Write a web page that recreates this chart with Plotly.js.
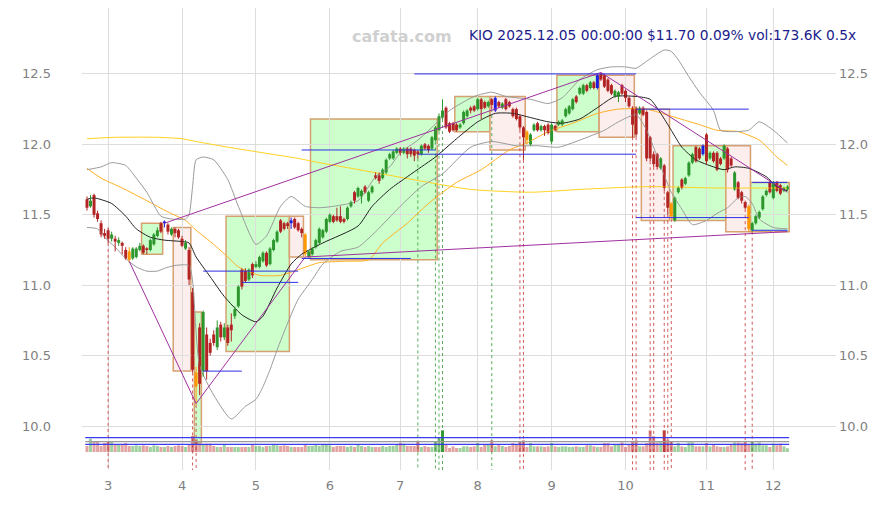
<!DOCTYPE html>
<html><head><meta charset="utf-8">
<script src="https://cdn.plot.ly/plotly-3.0.1.min.js"></script>
<style>body{margin:0;background:#fff}#chart{width:876px;height:505px}</style>
</head><body><div id="chart"></div>
<script>
// ---- data ----
const monthTickIdx = [6,27,48,69,89,111,132,153,176,195];
const monthLabels = ['3','4','5','6','7','8','9','10','11','12'];
const priceTicks = [10.0,10.5,11.0,11.5,12.0,12.5];

const open = [11.61,11.56,11.64,11.51,11.44,11.37,11.39,11.33,11.33,11.30, 11.30,11.25,11.24,11.19,11.20,11.25,11.28,11.26,11.25,11.29,
11.35,11.44,11.44,11.43,11.36,11.40,11.39,11.33,11.26,11.25, 10.95,10.38,10.70,10.39,10.65,10.59,10.65,10.56,10.72,10.63,
10.70,10.72,10.78,10.85,11.11,11.10,11.04,11.15,11.13,11.13, 11.17,11.23,11.15,11.25,11.31,11.46,11.44,11.44,11.44,11.47,
11.44,11.40,11.36,11.20,11.22,11.27,11.30,11.34,11.38,11.45, 11.49,11.49,11.49,11.47,11.47,11.56,11.66,11.63,11.63,11.70,
11.60,11.66,11.78,11.78,11.76,11.80,11.90,11.90,11.94,11.97, 11.94,11.97,11.97,11.96,11.95,11.93,12.00,11.99,11.97,12.03,
12.10,12.19,12.26,12.15,12.15,12.14,12.12,12.15,12.20,12.26, 12.27,12.25,12.32,12.30,12.27,12.32,12.24,12.30,12.26,12.32,
12.30,12.25,12.25,12.20,12.12,12.09,12.00,12.10,12.15,12.10, 12.13,12.14,12.02,12.13,12.14,12.14,12.20,12.22,12.25,12.34,
12.36,12.36,12.42,12.40,12.44,12.40,12.50,12.49,12.46,12.42, 12.34,12.34,12.42,12.38,12.33,12.26,12.26,12.22,12.26,12.23,
12.05,11.93,11.93,11.83,11.85,11.66,11.58,11.46,11.66,11.75, 11.72,11.78,11.87,11.98,11.97,11.93,12.07,11.90,11.94,11.94,
11.90,11.90,11.97,11.90,11.68,11.73,11.66,11.59,11.56,11.39, 11.44,11.48,11.54,11.64,11.73,11.62,11.73,11.71,11.67,11.68];
const close = [11.55,11.60,11.50,11.47,11.36,11.35,11.33,11.36,11.31,11.32, 11.28,11.19,11.18,11.26,11.26,11.28,11.23,11.25,11.32,11.36,
11.39,11.38,11.45,11.38,11.40,11.37,11.34,11.28,11.30,11.04, 10.40,10.28,10.30,10.81,10.39,10.52,10.59,10.70,10.63,10.70,
10.59,10.68,10.83,10.99,10.99,11.03,11.11,11.07,11.15,11.20, 11.23,11.14,11.26,11.32,11.38,11.38,11.40,11.42,11.46,11.41,
11.39,11.37,11.22,11.24,11.26,11.32,11.40,11.39,11.47,11.50, 11.45,11.46,11.45,11.45,11.55,11.59,11.60,11.69,11.67,11.66,
11.66,11.70,11.76,11.74,11.82,11.89,11.93,11.95,11.97,11.94, 11.97,11.93,11.93,11.92,11.93,11.99,11.97,11.96,12.05,12.12,
12.20,12.24,12.12,12.09,12.10,12.10,12.14,12.23,12.24,12.24, 12.24,12.32,12.25,12.26,12.30,12.28,12.33,12.27,12.29,12.25,
12.27,12.20,12.18,12.12,12.05,12.03,12.07,12.14,12.10,12.13, 12.10,12.08,12.14,12.10,12.16,12.17,12.25,12.27,12.32,12.30,
12.40,12.42,12.38,12.44,12.40,12.49,12.46,12.41,12.38,12.36, 12.38,12.37,12.36,12.33,12.27,12.14,12.07,12.26,12.21,11.90,
11.90,11.86,11.84,11.90,11.69,11.55,11.49,11.62,11.69,11.69, 11.76,11.87,11.93,11.88,11.90,11.99,11.88,11.94,11.88,11.82,
11.86,11.99,11.82,11.85,11.80,11.62,11.60,11.55,11.40,11.44, 11.49,11.52,11.63,11.67,11.66,11.73,11.67,11.65,11.69,11.70];
const high = [11.63,11.64,11.65,11.53,11.46,11.40,11.41,11.38,11.35,11.34, 11.31,11.27,11.27,11.27,11.27,11.30,11.29,11.27,11.33,11.37,
11.41,11.45,11.46,11.44,11.41,11.41,11.40,11.35,11.32,11.27, 10.98,10.42,10.73,10.82,10.70,10.62,10.68,10.75,10.74,10.73,
10.72,10.80,10.85,11.00,11.12,11.12,11.12,11.16,11.17,11.21, 11.24,11.24,11.27,11.33,11.39,11.47,11.45,11.45,11.48,11.48,
11.45,11.41,11.37,11.25,11.27,11.33,11.41,11.40,11.48,11.51, 11.50,11.55,11.56,11.48,11.56,11.60,11.67,11.70,11.68,11.71,
11.67,11.71,11.80,11.80,11.83,11.90,11.94,11.96,11.98,11.98, 11.98,11.98,11.98,11.97,11.96,12.00,12.01,12.00,12.06,12.13,
12.22,12.32,12.27,12.16,12.16,12.15,12.15,12.24,12.25,12.27, 12.28,12.33,12.33,12.31,12.31,12.33,12.34,12.31,12.30,12.33,
12.31,12.26,12.26,12.21,12.13,12.10,12.08,12.15,12.16,12.14, 12.14,12.15,12.15,12.14,12.17,12.18,12.26,12.28,12.33,12.35,
12.41,12.43,12.43,12.45,12.45,12.50,12.51,12.50,12.47,12.43, 12.39,12.38,12.43,12.39,12.34,12.27,12.27,12.27,12.27,12.24,
12.06,11.95,11.94,11.91,11.86,11.67,11.59,11.63,11.70,11.76, 11.77,11.88,11.94,11.99,11.98,12.00,12.08,11.95,11.95,11.95,
11.91,12.00,11.98,11.91,11.81,11.74,11.67,11.60,11.57,11.45, 11.50,11.53,11.64,11.68,11.74,11.74,11.74,11.72,11.70,11.71];
const low = [11.53,11.55,11.48,11.45,11.34,11.33,11.30,11.31,11.24,11.28, 11.22,11.18,11.16,11.18,11.19,11.24,11.22,11.22,11.24,11.28,
11.34,11.37,11.41,11.36,11.35,11.34,11.33,11.27,11.25,11.00, 10.38,10.15,10.22,10.35,10.33,10.50,10.57,10.54,10.60,10.61,
10.57,10.60,10.76,10.84,10.97,11.02,11.03,11.05,11.12,11.12, 11.16,11.13,11.14,11.24,11.30,11.37,11.39,11.40,11.40,11.40,
11.38,11.34,11.20,11.19,11.21,11.26,11.29,11.33,11.37,11.44, 11.44,11.45,11.44,11.44,11.46,11.55,11.58,11.62,11.58,11.65,
11.59,11.65,11.75,11.72,11.75,11.79,11.89,11.89,11.93,11.92, 11.93,11.90,11.91,11.88,11.90,11.92,11.96,11.94,11.96,12.02,
12.09,12.18,12.11,12.08,12.09,12.09,12.11,12.14,12.19,12.22, 12.23,12.24,12.18,12.25,12.26,12.25,12.23,12.26,12.25,12.24,
12.26,12.19,12.17,12.10,11.89,12.00,11.99,12.09,12.09,12.09, 12.06,12.07,12.00,12.09,12.13,12.13,12.19,12.21,12.24,12.29,
12.35,12.35,12.37,12.39,12.39,12.39,12.45,12.40,12.37,12.35, 12.33,12.30,12.35,12.30,12.26,12.05,12.05,12.21,12.20,11.88,
11.88,11.84,11.82,11.82,11.67,11.50,11.47,11.45,11.65,11.68, 11.71,11.77,11.86,11.87,11.89,11.92,11.86,11.89,11.87,11.81,
11.85,11.89,11.80,11.84,11.67,11.61,11.58,11.54,11.38,11.38, 11.43,11.47,11.53,11.63,11.65,11.61,11.66,11.64,11.66,11.67];
const volumeK = [273,607,485,485,273,410,455,455,333,333, 333,410,273,273,303,273,303,273,228,303,
273,228,228,273,228,273,303,273,228,333, 728,576,333,333,379,379,273,228,228,333,
228,228,228,228,228,228,228,333,273,273, 228,273,273,333,303,273,303,273,228,228,
228,228,333,273,273,333,273,333,333,303, 228,273,273,273,228,273,228,333,273,228,
273,228,228,228,273,228,273,273,333,425, 379,273,273,273,455,228,273,228,228,485,
637,986,333,182,258,182,182,258,258,228, 258,410,228,333,333,530,258,333,273,228,
273,410,333,485,530,228,410,258,258,258, 228,258,410,258,228,258,258,228,228,258,
228,228,303,303,258,228,228,410,410,258, 333,333,440,228,333,455,530,258,258,410,
986,713,440,455,986,561,455,258,410,258, 228,440,440,258,258,258,410,258,333,258,
228,228,258,333,440,440,410,500,333,485, 379,440,303,303,228,379,303,379,258,174];
const blueDays = [22,58,116,145,175];
const orangeDays = [12,31,62,125,166,188];
const redMarkDays = [6,30,31,123,124,155,156,160,161,164,165,166,187,189];
const greenMarkDays = [94,99,100,101,115];
const peakVolDays = [101,164];
const volLevelsK = [350,469,650];

// moving lines: [day index, price]
const midLine = [[0,11.61],[2,11.62],[7,11.58],[11,11.49],[14,11.40],[18,11.34],[22,11.32],[27,11.31],[29,11.30],[31,11.20],[35,11.06],[39,10.92],[44,10.79],[48,10.74],[50,10.78],[54,10.98],[58,11.15],[61,11.22],[67,11.30],[77,11.42],[81,11.56],[86,11.68],[91,11.77],[95,11.84],[99,11.91],[105,12.04],[111,12.16],[116,12.22],[121,12.22],[126,12.19],[131,12.16],[135,12.15],[140,12.18],[145,12.26],[150,12.34],[156,12.34],[160,12.32],[163,12.22],[166,12.10],[169,11.98],[173,11.89],[178,11.84],[181,11.82],[184,11.84],[188,11.83],[193,11.77],[196,11.70],[199,11.67]];
const upperBand = [[0,11.82],[4,11.84],[7,11.87],[11,11.85],[14,11.76],[17,11.66],[21,11.49],[24,11.47],[28,11.47],[29,11.50],[30,11.70],[31,11.89],[33,11.91],[36,11.89],[40,11.75],[43,11.56],[48,11.29],[51,11.35],[55,11.56],[58,11.63],[62,11.56],[66,11.55],[70,11.56],[77,11.60],[82,11.77],[86,11.84],[89,11.94],[94,12.03],[98,12.12],[103,12.24],[110,12.34],[115,12.37],[119,12.34],[126,12.32],[131,12.29],[135,12.33],[140,12.46],[145,12.53],[149,12.55],[153,12.55],[156,12.54],[159,12.59],[164,12.67],[166,12.66],[168,12.60],[171,12.48],[174,12.37],[178,12.24],[180,12.10],[183,12.09],[188,12.10],[191,12.16],[195,12.10],[199,12.01]];
const lowerBand = [[0,11.41],[3,11.40],[5,11.34],[8,11.27],[11,11.19],[14,11.13],[17,11.10],[20,11.10],[22,11.12],[25,11.14],[29,11.14],[30,11.03],[32,10.43],[36,10.22],[41,10.05],[45,10.14],[48,10.19],[50,10.28],[52,10.40],[54,10.54],[57,10.73],[60,10.90],[64,11.04],[67,11.15],[72,11.24],[77,11.27],[82,11.38],[89,11.56],[95,11.70],[101,11.79],[109,11.98],[115,12.02],[122,11.99],[128,11.99],[134,11.98],[140,12.03],[147,12.10],[151,12.16],[156,12.21],[159,12.10],[164,11.78],[166,11.66],[169,11.54],[172,11.43],[176,11.46],[179,11.51],[182,11.55],[185,11.62],[187,11.63],[189,11.58],[191,11.47],[195,11.41],[199,11.40]];
const slowLine = [[0,11.83],[4,11.76],[10,11.69],[17,11.60],[23,11.52],[28,11.46],[31,11.39],[36,11.29],[40,11.20],[43,11.13],[49,11.07],[55,11.07],[60,11.11],[66,11.16],[73,11.17],[80,11.18],[84,11.30],[91,11.44],[97,11.58],[105,11.73],[112,11.82],[120,11.96],[125,12.01],[131,12.09],[138,12.15],[145,12.22],[151,12.25],[159,12.25],[166,12.20],[174,12.14],[179,12.10],[185,12.09],[191,12.03],[196,11.91],[199,11.85]];
const longLine = [[0,12.04],[8,12.05],[20,12.05],[27,12.04],[31,12.02],[40,11.98],[50,11.94],[60,11.90],[66,11.87],[75,11.83],[86,11.78],[97,11.73],[109,11.68],[126,11.66],[140,11.68],[159,11.70],[179,11.69],[199,11.69]];
// trend lines through pivots: [day, price]
const zigzag = [[12,11.17],[31,10.16],[62,11.20]];
const upperTrend = [[22,11.44],[146,12.51],[199,11.66]];
const lowerTrend = [[62,11.20],[199,11.38]];
// horizontal levels: [startDay, endDay, price]
const levels = [[93,156,12.50],[61,99,11.96],[94,156,11.93],[156,188,12.25],[156,188,11.48],[33,60,11.10],[44,60,11.02],[33,44,10.39],[61,92,11.19],[189,199,11.73],[189,199,11.39]];
// zones: [startDay, endDay, low, high, kind]
const zones = [[16,21,11.22,11.44,'up'],[31,32,9.88,10.81,'up'],[40,57,10.53,11.49,'up'],[64,99,11.18,12.18,'up'],
[105,114,12.09,12.34,'up'],[134,145,12.09,12.49,'up'],[167,181,11.46,11.99,'up'],[189,199,11.38,11.73,'up'],
[25,29,10.39,11.41,'down'],[58,61,11.20,11.49,'down'],[115,124,11.96,12.34,'down'],[146,155,12.05,12.49,'down'],
[158,165,11.46,12.25,'down'],[182,188,11.38,11.99,'down']];

// ---- build ----
const N = close.length;
const days = close.map((_, i) => i);
const Y0 = 9.688, Y1 = 12.968;
const GREEN = '#2d972d', RED = '#b32424', BLUE = '#1f1fe0', ORANGE = '#ff9900';

function lineTrace(pts, color, width){
  return {type:'scatter', mode:'lines', x: pts.map(p=>p[0]), y: pts.map(p=>p[1]),
    line:{color:color, width:width, shape:'spline', smoothing:0.6}, hoverinfo:'skip'};
}
function straight(pts, color){
  return {type:'scatter', mode:'lines', x: pts.map(p=>p[0]), y: pts.map(p=>p[1]),
    line:{color:color, width:1}, hoverinfo:'skip'};
}
function marks(ids, color){
  const x=[], y=[];
  ids.forEach(i => { x.push(i,i,null); y.push(low[i], Y0, null); });
  return {type:'scatter', mode:'lines', x, y, line:{color, width:1, dash:'dot'}, hoverinfo:'skip'};
}

const volColors = days.map(i => {
  const up = close[i] >= open[i];
  let a = 0.45;
  if (redMarkDays.includes(i) || greenMarkDays.includes(i)) a = 0.6;
  if (peakVolDays.includes(i)) a = 0.95;
  return up ? `rgba(45,150,45,${a})` : `rgba(190,50,50,${a})`;
});
const candleColor = days.map(i => blueDays.includes(i) ? BLUE : orangeDays.includes(i) ? ORANGE : (close[i] >= open[i] ? GREEN : RED));

const traces = [];
traces.push(marks(redMarkDays, 'rgba(200,60,60,0.85)'));
traces.push(marks(greenMarkDays, 'rgba(60,160,60,0.85)'));
traces.push({type:'bar', x: days, y: volumeK, yaxis:'y2', width:0.85, marker:{color: volColors, line:{width:0}}, hoverinfo:'skip'});
volLevelsK.forEach((v, k) => {
  traces.push({type:'scatter', mode:'lines', x:[-0.5, N-0.5], y:[v, v], yaxis:'y2',
    line:{color: k===1 ? '#9a9a9a' : '#3b3bf0', width:1.2}, hoverinfo:'skip'});
});
traces.push(lineTrace(longLine, '#ffd21f', 1));
traces.push(lineTrace(slowLine, '#ffb020', 1));
traces.push(lineTrace(upperBand, '#9a9a9a', 1));
traces.push(lineTrace(lowerBand, '#9a9a9a', 1));
traces.push(lineTrace(midLine, '#222222', 1));
// candle wicks, grouped by colour
[GREEN, RED, BLUE, ORANGE].forEach(c => {
  const x=[], y=[];
  days.filter(i => candleColor[i] === c).forEach(i => { x.push(i,i,null); y.push(low[i], high[i], null); });
  traces.push({type:'scatter', mode:'lines', x, y, line:{color:c, width:1}, hoverinfo:'skip'});
});
// candle bodies
traces.push({type:'bar', x: days,
  base: days.map(i => Math.min(open[i], close[i])),
  y: days.map(i => Math.max(Math.abs(close[i] - open[i]), 0.012)),
  width:0.85, marker:{color: candleColor, line:{width:0}}, hoverinfo:'skip'});
traces.push(straight(zigzag, '#a0309f'));
traces.push(straight(upperTrend, '#a0309f'));
traces.push(straight(lowerTrend, '#a0309f'));
levels.forEach(l => traces.push({type:'scatter', mode:'lines', x:[l[0], l[1]], y:[l[2], l[2]],
  line:{color:'#2e2ee6', width:1}, hoverinfo:'skip'}));
// invisible trace to carry the right-hand price axis
traces.push({type:'scatter', mode:'lines', x:[0, N-1], y:[close[0], close[N-1]], yaxis:'y3', line:{width:0}, opacity:0, hoverinfo:'skip'});

const shapes = zones.map(z => ({type:'rect', layer:'below', xref:'x', yref:'y',
  x0: z[0]-0.5, x1: z[1]+0.5, y0: z[2], y1: z[3],
  fillcolor: z[4]==='up' ? '#ccffcc' : '#fdeeee',
  line:{color:'#d6a070', width:1.5}}));

const tickFont = {family:'DejaVu Sans, sans-serif', size:13, color:'#808080'};
const yTickText = priceTicks.map(v => v.toFixed(1));
const layout = {
  width:876, height:505,
  margin:{l:82, r:40, t:8, b:35},
  paper_bgcolor:'#ffffff', plot_bgcolor:'#ffffff',
  showlegend:false, hovermode:false, barmode:'overlay',
  xaxis:{range:[-1.42, 212.8], tickvals: monthTickIdx, ticktext: monthLabels, showgrid:true, gridcolor:'#dddddd',
    zeroline:false, showline:false, ticks:'', tickfont: tickFont, ticklabelstandoff:6, fixedrange:true},
  yaxis:{range:[Y0, Y1], tickvals: priceTicks, ticktext: yTickText, showgrid:true, gridcolor:'#dddddd',
    zeroline:false, showline:false, ticks:'', tickfont: tickFont, ticklabelstandoff:30},
  yaxis2:{overlaying:'y', range:[-819, 20202], visible:false},
  yaxis3:{overlaying:'y', side:'right', range:[Y0, Y1], tickvals: priceTicks, ticktext: yTickText, showgrid:false,
    zeroline:false, showline:false, ticks:'', tickfont: tickFont, ticklabelstandoff:2},
  shapes,
  annotations:[
    {xref:'paper', yref:'paper', x:0.4244, y:0.963, text:'<b>cafata.com</b>', showarrow:false,
      font:{family:'DejaVu Sans, sans-serif', size:16, color:'#d0d0d0'}},
    {xref:'paper', yref:'paper', x:1.0292, xanchor:'right', y:0.963,
      text:'KIO 2025.12.05 00:00:00 $11.70 0.09% vol:173.6K 0.5x', showarrow:false,
      font:{family:'DejaVu Sans, sans-serif', size:13.8, color:'#1c1c8c'}}
  ]
};
Plotly.newPlot('chart', traces, layout, {staticPlot:true, displayModeBar:false});
</script>
</body></html>
